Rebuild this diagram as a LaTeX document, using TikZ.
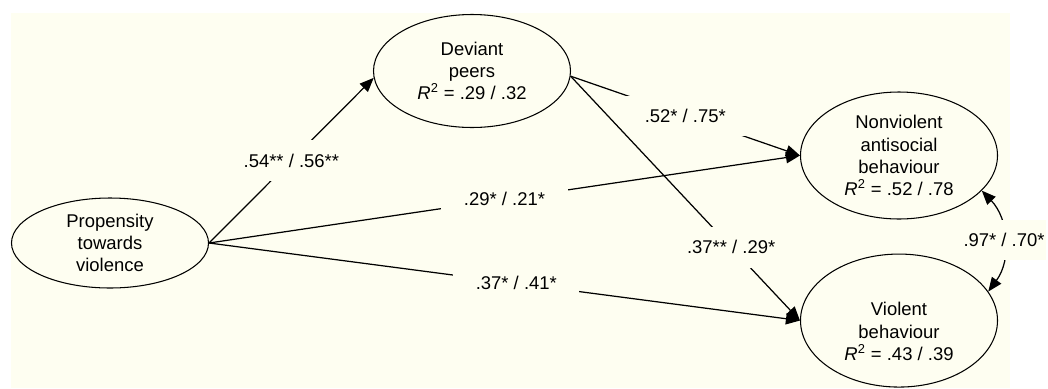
\documentclass[tikz,border=0pt]{standalone}
\usepackage{fontspec}
\setmainfont{Liberation Sans}
\usetikzlibrary{shapes.geometric,positioning,arrows.meta}
\definecolor{cream}{RGB}{254,254,241}

\begin{document}
\begin{tikzpicture}[
	font=\fontsize{10.5}{12.6}\selectfont,
	latent/.style={draw, ellipse, line width=0.6pt, align=center, inner sep=0pt, minimum width=3.94cm},
	effect/.style={line width=0.7pt, -{Triangle[length=8pt,width=6.5pt]}},
	coef/.style={fill=cream, inner xsep=0.45cm, inner ysep=0.27cm}
]
	\useasboundingbox[fill=white] (0,0) rectangle (20.96,-7.76);
	\fill[cream] (0.22,-0.26) rectangle (20.2,-7.76);

	\node[latent, minimum height=1.8cm] (prop) at (2.2,-4.86) {Propensity\\towards\\violence};
	\node[latent, minimum height=2.26cm] (peers) at (9.44,-1.42) {Deviant\\peers\\\textit{R}\textsuperscript{2} = .29 / .32};
	\node[latent, minimum height=2.54cm] (nonviol) at (17.98,-3.11) {Nonviolent\\antisocial\\behaviour\\\textit{R}\textsuperscript{2} = .52 / .78};
	\node[latent, minimum height=2.66cm, below=0.68cm of nonviol] (viol) {\rule{0pt}{20pt}Violent\\behaviour\\\textit{R}\textsuperscript{2} = .43 / .39};

	\draw[effect] (prop.east) -- node[coef] {.54** / .56**} (peers.184);
	\draw[effect] (prop.east) -- node[coef] {.29* / .21*} (nonviol.west);
	\draw[effect] (prop.east) -- node[coef, pos=0.52] {.37* / .41*} (viol.west);
	\draw[effect] (peers.-3) -- node[coef] {.52* / .75*} (nonviol.west);
	\draw[effect] (peers.-3) -- node[coef, pos=0.7] {.37** / .29*} (viol.west);
	\draw[effect, {Triangle[length=8pt,width=6.5pt]}-{Triangle[length=8pt,width=6.5pt]}] (nonviol.-23) to[bend left=40] node[coef, inner xsep=1pt] {.97* / .70*} (viol.18);
\end{tikzpicture}
\end{document}
